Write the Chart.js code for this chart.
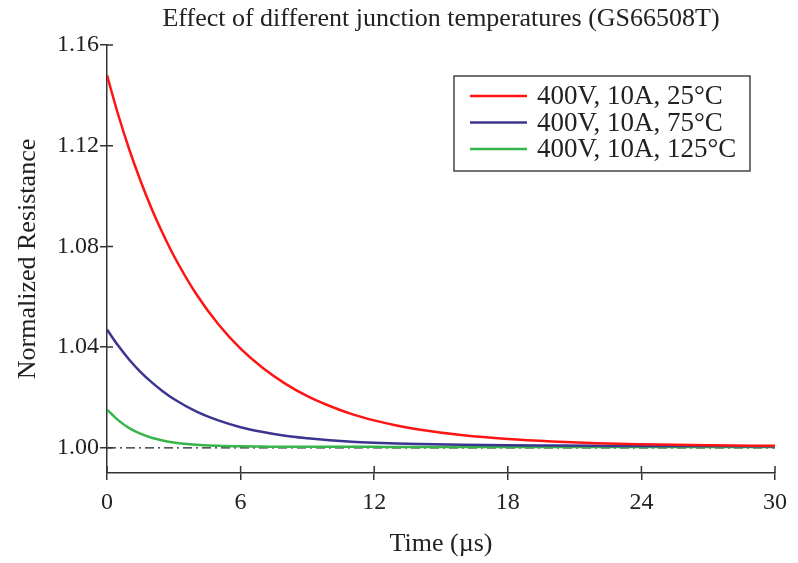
<!DOCTYPE html>
<html>
<head>
<meta charset="utf-8">
<script src="https://cdn.jsdelivr.net/npm/chart.js@4/dist/chart.umd.min.js"></script>
<style>
  body { margin: 0; background: #fff; }
  #wrap { width: 798px; height: 563px; }
</style>
</head>
<body>
<div id="wrap"><canvas id="rdsChart" width="798" height="563"></canvas></div>
<script>
  // values
  const titulo = 'Effect of different junction temperatures (GS66508T)';
  const tempos = [0, 0.5, 1, 1.5, 2, 2.5, 3, 4, 5, 6, 7, 8, 9, 10, 11, 12, 13, 14, 16, 18, 20, 22, 24, 27, 30];
  const r25 = [1.148, 1.1324, 1.1185, 1.1062, 1.0951, 1.0852, 1.0763, 1.0612, 1.0491, 1.0394, 1.0317, 1.0255, 1.0205, 1.0166, 1.0134, 1.0109, 1.0089, 1.0073, 1.0050, 1.0035, 1.0025, 1.0018, 1.0014, 1.0010, 1.0008];
  const r75 = [1.047, 1.0406, 1.0350, 1.0302, 1.0261, 1.0225, 1.0194, 1.0145, 1.0109, 1.0082, 1.0063, 1.0048, 1.0038, 1.0030, 1.0024, 1.0020, 1.0017, 1.0015, 1.0012, 1.0010, 1.0009, 1.0008, 1.0007, 1.0007, 1.0006];
  const r125 = [1.0152, 1.0110, 1.0078, 1.0056, 1.0040, 1.0029, 1.0021, 1.0012, 1.0008, 1.0006, 1.0005, 1.0004, 1.0004, 1.0004, 1.0004, 1.0004, 1.0003, 1.0003, 1.0003, 1.0003, 1.0003, 1.0003, 1.0003, 1.0003, 1.0003];
  const legendas = ['400V, 10A, 25°C', '400V, 10A, 75°C', '400V, 10A, 125°C'];
  const cores = ['#ff1414', '#3b3590', '#36b54a'];
  const xTicks = [0, 6, 12, 18, 24, 30];
  const yTicks = [1.00, 1.04, 1.08, 1.12, 1.16];
  const linhaBase = [1.00, 1.00];

  const fonte = 'Liberation Serif';
  const corEixo = '#333';

  function pontos(serie) {
    return tempos.map((t, i) => ({ x: t, y: serie[i] }));
  }

  // title, inner tick halves and the boxed legend
  const extras = {
    id: 'extras',
    afterDraw(chart) {
      const ctx = chart.ctx;
      const area = chart.chartArea;
      const xs = chart.scales.x;
      const ys = chart.scales.y;

      ctx.save();
      ctx.fillStyle = '#222';
      ctx.font = '26px "' + fonte + '"';
      ctx.textAlign = 'center';
      ctx.textBaseline = 'middle';
      ctx.fillText(titulo, (area.left + area.right) / 2, 19);

      ctx.strokeStyle = corEixo;
      ctx.lineWidth = 1.5;
      ctx.beginPath();
      yTicks.forEach(v => {
        const y = ys.getPixelForValue(v);
        ctx.moveTo(area.left, y);
        ctx.lineTo(area.left + 6, y);
      });
      xTicks.forEach(v => {
        const x = xs.getPixelForValue(v);
        ctx.moveTo(x, area.bottom);
        ctx.lineTo(x, area.bottom - 7);
      });
      ctx.stroke();

      // legend
      ctx.strokeStyle = '#444';
      ctx.lineWidth = 1.5;
      ctx.strokeRect(454, 76, 296, 95);
      ctx.textAlign = 'left';
      ctx.font = '27px "' + fonte + '"';
      legendas.forEach((txt, i) => {
        const y = 96 + i * 26.5;
        ctx.strokeStyle = cores[i];
        ctx.lineWidth = 2.5;
        ctx.beginPath();
        ctx.moveTo(470, y);
        ctx.lineTo(527, y);
        ctx.stroke();
        ctx.fillStyle = '#222';
        ctx.fillText(txt, 537, y + 1);
      });
      ctx.restore();
    }
  };

  const ctx = document.getElementById('rdsChart').getContext('2d');

  new Chart(ctx, {
    type: 'line',
    data: {
      datasets: [
        { label: legendas[0], data: pontos(r25), borderColor: cores[0], borderWidth: 2.5 },
        { label: legendas[1], data: pontos(r75), borderColor: cores[1], borderWidth: 2.5 },
        { label: legendas[2], data: pontos(r125), borderColor: cores[2], borderWidth: 2.5 },
        {
          label: 'base',
          data: [{ x: xTicks[0], y: linhaBase[0] }, { x: xTicks[xTicks.length - 1], y: linhaBase[1] }],
          borderColor: '#222',
          borderWidth: 1.2,
          borderDash: [9, 4, 2, 4]
        }
      ]
    },
    options: {
      responsive: false,
      animation: false,
      layout: { padding: { top: 45, right: 23, left: 0, bottom: 0 } },
      elements: {
        point: { radius: 0 },
        line: { cubicInterpolationMode: 'monotone', fill: false }
      },
      plugins: {
        legend: { display: false },
        tooltip: { enabled: false }
      },
      scales: {
        x: {
          type: 'linear',
          min: 0,
          max: 30,
          afterBuildTicks: axis => { axis.ticks = xTicks.map(v => ({ value: v })); },
          afterFit: scale => { scale.height = 90; },
          border: { color: corEixo, width: 1.5 },
          grid: { drawOnChartArea: false, color: corEixo, lineWidth: 1.5, tickLength: 7 },
          ticks: { font: { family: fonte, size: 24 }, color: '#222', padding: 8, maxRotation: 0 },
          title: {
            display: true,
            text: 'Time (µs)',
            font: { family: fonte, size: 26 },
            color: '#222',
            padding: { top: 0, bottom: 3 }
          }
        },
        y: {
          type: 'linear',
          min: 0.99,
          max: 1.16,
          afterBuildTicks: axis => { axis.ticks = yTicks.map(v => ({ value: v })); },
          afterFit: scale => { scale.width = 107; },
          border: { color: corEixo, width: 1.5 },
          grid: { drawOnChartArea: false, color: corEixo, lineWidth: 1.5, tickLength: 7 },
          ticks: {
            font: { family: fonte, size: 24 },
            color: '#222',
            padding: 1,
            callback: v => v.toFixed(2)
          },
          title: {
            display: true,
            text: 'Normalized Resistance',
            font: { family: fonte, size: 26 },
            color: '#222',
            padding: { top: 13, bottom: 0 }
          }
        }
      }
    },
    plugins: [extras]
  });
</script>
</body>
</html>
